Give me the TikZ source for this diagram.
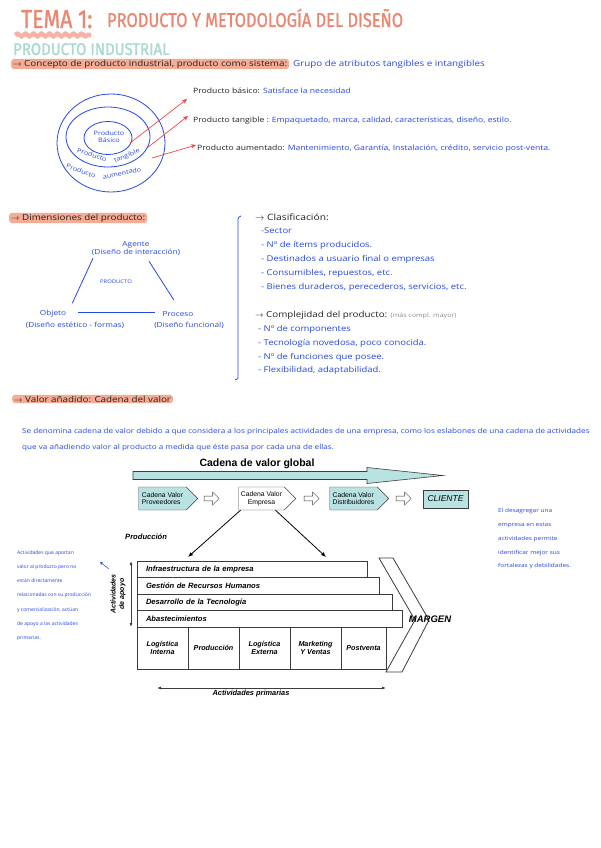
\documentclass[tikz,border=0pt]{standalone}
\usepackage{fontspec}
\setmainfont{Open Sans}[FakeStretch=1.18]
\newfontfamily\titlefont{Fira Sans}[FakeBold=1.2]
\newfontfamily\chainfont{Liberation Sans}
\usetikzlibrary{arrows.meta, positioning, shapes.symbols, shapes.arrows, decorations.pathmorphing}
\definecolor{NoteInk}{HTML}{2547E6}
\definecolor{NoteBlack}{HTML}{222222}
\definecolor{NoteGray}{HTML}{8C8C8C}
\definecolor{TitleSalmon}{HTML}{EC8670}
\definecolor{WaveSalmon}{HTML}{F6B2A6}
\definecolor{MarkSalmon}{HTML}{F6AB95}
\definecolor{MarkMint}{HTML}{A8DACD}
\definecolor{ArrowRed}{HTML}{F04646}
\definecolor{ChainTeal}{HTML}{B9E2E2}
\definecolor{ChainGray}{HTML}{3C3C3C}
\tikzset{
    % Handwritten notes
    titletext/.style={
        anchor=base west,
        inner sep=0,
        xscale=0.82,
        text=TitleSalmon,
        font=\titlefont\fontsize{20}{20}\selectfont
    },
    minttext/.style={
        anchor=base west,
        inner sep=0,
        xscale=0.88,
        text=MarkMint,
        font=\titlefont\fontsize{17}{17}\selectfont
    },
    markbar/.style={
        anchor=west,
        fill=MarkSalmon,
        rounded corners=3pt,
        inner xsep=2pt,
        inner ysep=1pt,
        text=NoteBlack,
        font=\fontsize{8.3}{9}\selectfont
    },
    inktext/.style={
        anchor=base west,
        inner sep=0,
        text=NoteInk,
        font=\fontsize{7.3}{9}\selectfont
    },
    listtext/.style={
        anchor=north west,
        inner sep=0,
        align=left,
        text=NoteInk,
        font=\fontsize{8}{13.9}\selectfont
    },
    headtext/.style={
        anchor=base west,
        inner sep=0,
        text=NoteBlack,
        font=\fontsize{8.7}{10}\selectfont
    },
    ringtext/.style={
        inner sep=0,
        text=NoteInk,
        font=\fontsize{6.1}{7}\selectfont
    },
    tritext/.style={
        inner sep=0,
        text=NoteInk,
        font=\fontsize{7}{8}\selectfont
    },
    tinytext/.style={
        anchor=north west,
        inner sep=0,
        align=left,
        text=NoteInk
    },
    ring/.style={
        draw=NoteInk,
        line width=0.8pt
    },
    inkline/.style={
        NoteInk,
        line width=0.8pt
    },
    redarrow/.style={
        -{Stealth[length=5pt,width=4.5pt]},
        ArrowRed,
        line width=0.7pt
    },
    % Value chain figure
    chainbox/.style={
        signal,
        signal to=east,
        draw=ChainGray,
        fill=ChainTeal,
        minimum width=59pt,
        minimum height=23pt,
        inner sep=1pt,
        align=left,
        font=\chainfont\fontsize{6.8}{7.8}\selectfont
    },
    hollowarrow/.style={
        single arrow,
        draw=ChainGray,
        fill=white,
        minimum width=13pt,
        minimum height=15pt,
        single arrow head extend=3pt,
        inner sep=1.5pt
    },
    supportbar/.style={
        draw=ChainGray,
        fill=white,
        anchor=north west,
        outer sep=0,
        inner xsep=9pt,
        inner ysep=0,
        minimum height=16.5pt,
        align=left,
        font=\chainfont\bfseries\itshape\fontsize{7.6}{8}\selectfont
    },
    primarybox/.style={
        draw=ChainGray,
        anchor=north west,
        outer sep=0,
        inner sep=0,
        minimum width=51pt,
        minimum height=42pt,
        align=center,
        font=\chainfont\bfseries\itshape\fontsize{7.2}{8.4}\selectfont
    },
    chainarrow/.style={
        {Latex[length=4pt,width=3pt]}-{Latex[length=4pt,width=3pt]},
        line width=0.9pt,
        ChainGray
    },
    downarrow/.style={
        -{Latex[length=5pt,width=4pt]},
        line width=0.8pt,
        black
    }
}
\begin{document}
\begin{tikzpicture}[x=1pt, y=-1pt]
    \fill[white] (0,0) rectangle (600,848);
    \useasboundingbox (0,0) rectangle (600,848);

    % Title
    \draw[WaveSalmon, line width=4.5pt, decorate, decoration={snake, amplitude=1.3pt, segment length=8pt}] (15,35) -- (91,35);
    \node[titletext, font=\titlefont\fontsize{26}{26}\selectfont] (tema) at (21,28) {TEMA 1:};
    \node[titletext] (titulo) at (107,27) {PRODUCTO Y METODOLOGÍA DEL DISEÑO};
    \node[minttext] (industrial) at (13,55) {PRODUCTO INDUSTRIAL};

    \node[markbar] (concepto) at (11,64) {$\to$ Concepto de producto industrial, producto como sistema:};
    \node[inktext, font=\fontsize{8.3}{9}\selectfont] (grupo) at (293,67) {Grupo de atributos tangibles e intangibles};

    % Product levels (rings)
    \draw[ring] (111,143) ellipse [x radius=54, y radius=49];
    \draw[ring] (108,137) ellipse [x radius=42, y radius=30];
    \draw[ring] (108,138) ellipse [x radius=24, y radius=16.5];

    \node[ringtext, align=center] (basico) at (109,137) {Producto\\Básico};
    \node[ringtext, rotate=-18] (tang1) at (92,155) {Producto};
    \node[ringtext, rotate=22] (tang2) at (127,156) {tangible};
    \node[ringtext, rotate=-20] (aum1) at (81,171) {Producto};
    \node[ringtext, rotate=12] (aum2) at (122,173) {aumentado};

    \node[inktext] (pbasico) at (193,94) {\color{NoteBlack}Producto básico: \color{NoteInk}Satisface la necesidad};
    \node[inktext] (ptangible) at (193,122) {\color{NoteBlack}Producto tangible : \color{NoteInk}Empaquetado, marca, calidad, características, diseño, estilo.};
    \node[inktext] (paumentado) at (197,150) {\color{NoteBlack}Producto aumentado: \color{NoteInk}Mantenimiento, Garantía, Instalación, crédito, servicio post-venta.};

    \coordinate (basicoIn) at (130,143);
    \coordinate (tangIn) at (147,148);
    \coordinate (aumIn) at (152,158);
    \draw[redarrow] (basicoIn) -- ([xshift=-6pt,yshift=-5pt]pbasico.base west);
    \draw[redarrow] (tangIn) -- ([xshift=-5pt,yshift=6pt]ptangible.base west);
    \draw[redarrow] (aumIn) -- ([xshift=-1pt,yshift=5pt]paumentado.base west);

    % Dimensions (triangle)
    \node[markbar] (dimensiones) at (9,218) {$\to$ Dimensiones del producto:};

    \node[tritext, align=center] (agente) at (136,249) {Agente\\(Diseño de interacción)};
    \node[tritext, font=\fontsize{5}{6}\selectfont] (producto) at (116,282) {PRODUCTO};
    \node[tritext] (objeto) at (53,314) {Objeto};
    \node[tritext] (objetosub) at (75,325) {(Diseño estético - formas)};
    \node[tritext] (proceso) at (178,314) {Proceso};
    \node[tritext] (procesosub) at (189,325) {(Diseño funcional)};

    \draw[inkline] ([xshift=-43pt,yshift=-2pt]agente.south) -- ([xshift=6pt,yshift=7pt]objeto.north east);
    \draw[inkline] ([xshift=13pt,yshift=-5pt]agente.south) -- ([xshift=-4pt,yshift=11pt]proceso.north);
    \draw[inkline, shorten <=12pt, shorten >=7pt] ([yshift=2pt]objeto.east) -- ([yshift=2pt]proceso.west);

    % Classification and complexity
    \draw[inkline] (241,216) .. controls (238,217) .. (238,222) -- (238,375) .. controls (238,379) .. (235,380);

    \node[headtext] (clasif) at (255,220) {$\to$ Clasificación:};
    \node[listtext] (clasiflist) at (261,228) {-Sector\\- Nº de ítems producidos.\\- Destinados a usuario final o empresas\\- Consumibles, repuestos, etc.\\- Bienes duraderos, perecederos, servicios, etc.};

    \node[headtext, font=\fontsize{8.3}{10}\selectfont] (complej) at (255,317) {$\to$ Complejidad del producto: {\color{NoteGray}\fontsize{6}{7}\selectfont (más compl. mayor)}};
    \node[listtext] (complejlist) at (258,325) {- Nº de componentes\\- Tecnología novedosa, poco conocida.\\- Nº de funciones que posee.\\- Flexibilidad, adaptabilidad.};

    % Value added
    \node[markbar] (valor) at (12,399) {$\to$ Valor añadido: Cadena del valor};
    \node[listtext, font=\fontsize{6.9}{16.5}\selectfont] (definicion) at (22,428) {Se denomina cadena de valor debido a que considera a los principales actividades de una empresa, como los eslabones de una cadena de actividades\\que va añadiendo valor al producto a medida que éste pasa por cada una de ellas.};

    % Value chain figure
    \fill[ChainTeal, draw=ChainGray, line width=0.6pt] (133,471.5) -- (367,471.5) -- (367,467.5) -- (443,475.5) -- (367,483.5) -- (367,479.5) -- (133,479.5) -- cycle;
    \node[font=\chainfont\bfseries\fontsize{10.5}{11}\selectfont, inner sep=0] (global) at (257,464) {Cadena de valor global};

    \node[chainbox] (prov) at (162.5,498.5) {Cadena Valor\\Proveedores};
    \node[hollowarrow] (flecha1) at (210.5,498.5) {};
    \node[chainbox, fill=white, minimum width=57pt, align=center] (empresa) at (261.5,498.5) {Cadena Valor\\Empresa};
    \node[hollowarrow] (flecha2) at (310.5,498.5) {};
    \node[chainbox] (distrib) at (353.5,498.5) {Cadena Valor\\Distribuidores};
    \node[hollowarrow] (flecha3) at (402.5,498.5) {};
    \node[draw=ChainGray, fill=ChainTeal, minimum width=45pt, minimum height=18pt, inner sep=0, font=\chainfont\itshape\fontsize{8.5}{9}\selectfont] (cliente) at (445.5,499) {CLIENTE};

    \node[anchor=base west, inner sep=0, font=\chainfont\bfseries\itshape\fontsize{7.6}{8}\selectfont] (produccionlbl) at (125,539) {Producción};

    % Margin chevron
    \draw[ChainGray, line width=0.8pt] (379,558) -- (393,558) -- (429,620) -- (402,672) -- (386,672) -- (415,620) -- cycle;
    \node[font=\chainfont\bfseries\itshape\fontsize{9.5}{9.5}\selectfont, inner sep=0] (margen) at (430,619) {MARGEN};

    % Support activities
    \node[supportbar, minimum width=230pt, text width=212pt] (infra) at (137,561) {Infraestructura de la empresa};
    \node[supportbar, minimum width=242pt, text width=224pt] (rrhh) at (infra.south west) {Gestión de Recursos Humanos};
    \node[supportbar, minimum width=255pt, text width=237pt] (tecno) at (rrhh.south west) {Desarrollo de la Tecnología};
    \node[supportbar, minimum width=265pt, text width=247pt] (abast) at (tecno.south west) {Abastecimientos};

    % Primary activities
    \node[primarybox] (logint) at (abast.south west) {Logística\\Interna};
    \node[primarybox, right=0pt of logint] (produccion) {Producción};
    \node[primarybox, right=0pt of produccion] (logext) {Logística\\Externa};
    \node[primarybox, right=0pt of logext] (marketing) {Marketing\\Y Ventas};
    \node[primarybox, right=0pt of marketing, minimum width=45pt] (postventa) {Postventa};

    \draw[downarrow] ([xshift=2pt]empresa.south west) -- ([xshift=51pt,yshift=4pt]infra.north west);
    \draw[downarrow] ([xshift=14pt]empresa.south) -- ([xshift=189pt,yshift=4pt]infra.north west);

    \draw[chainarrow] ([xshift=-6pt]infra.north west) -- ([xshift=-6pt]abast.south west);
    \node[rotate=90, align=center, inner sep=0, font=\chainfont\bfseries\itshape\fontsize{7}{8.5}\selectfont] (apoyo) at (118,594) {Actividades\\de apoyo};

    \draw[chainarrow] ([xshift=20pt,yshift=-19pt]logint.south west) -- ([yshift=-19pt]postventa.south east);
    \node[anchor=north, inner sep=0, font=\chainfont\bfseries\itshape\fontsize{7.4}{8}\selectfont] (primarias) at (251,690) {Actividades primarias};

    % Side notes
    \node[tinytext, xscale=0.85, font=\fontsize{5}{14.3}\selectfont] (notaapoyo) at (17,550) {Actividades que aportan\\valor al producto pero no\\están directamente\\relacionadas con su producción\\y comercialización, actúan\\de apoyo a las actividades\\primarias.};
    \coordinate (notaflecha) at (109,569);
    \draw[NoteInk, line width=0.5pt, -{Stealth[length=3pt,width=3pt]}] (notaflecha) -- (100,562);

    \node[tinytext, font=\fontsize{5.5}{13.9}\selectfont] (notadesagregar) at (498,508) {El desagregar una\\empresa en estas\\actividades permite\\identificar mejor sus\\fortalezas y debilidades.};
\end{tikzpicture}
\end{document}
